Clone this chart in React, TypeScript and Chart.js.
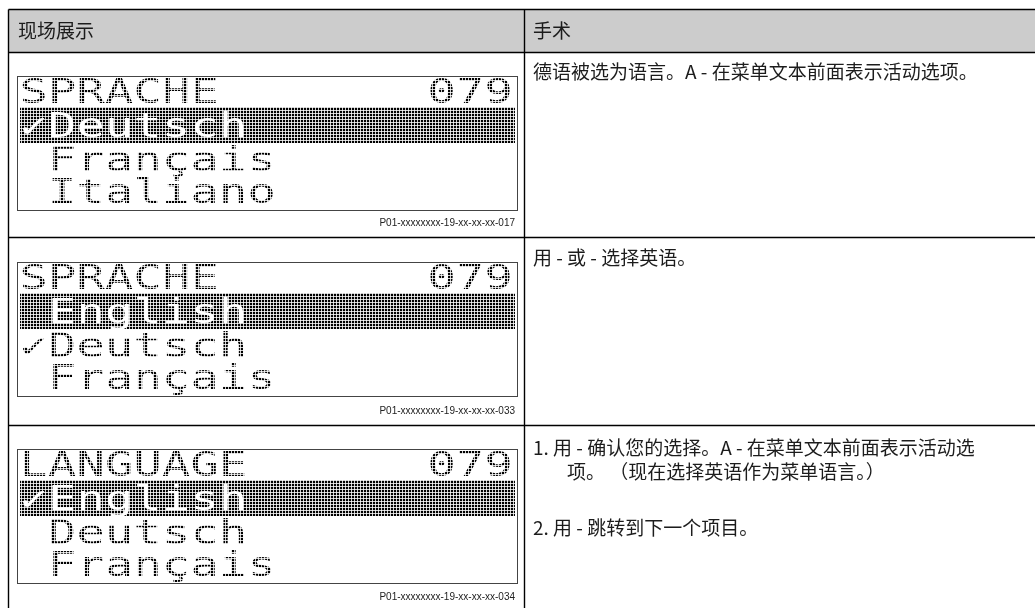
import React, { useEffect, useRef } from "react";
import { Chart, registerables } from "chart.js";

Chart.register(...registerables);

const W = 1035;
const H = 608;

// ---- data ----
const headerLabels = ["现场展示", "手术"];
const lcdTitles = ["SPRACHE", "SPRACHE", "LANGUAGE"];
const lcdCodes = ["079", "079", "079"];
const lcdItems = [
  ["✓Deutsch", " Français", " Italiano"],
  [" English", "✓Deutsch", " Français"],
  ["✓English", " Deutsch", " Français"],
];
const lcdHighlighted = [0, 0, 0];
const figureIds = [
  "P01-xxxxxxxx-19-xx-xx-xx-017",
  "P01-xxxxxxxx-19-xx-xx-xx-033",
  "P01-xxxxxxxx-19-xx-xx-xx-034",
];
const instructionLines = [
  ["德语被选为语言。A - 在菜单文本前面表示活动选项。"],
  ["用 - 或 - 选择英语。"],
  [
    "1. 用 - 确认您的选择。A - 在菜单文本前面表示活动选",
    "项。 （现在选择英语作为菜单语言。）",
    "2. 用 - 跳转到下一个项目。",
  ],
];

// ---- layout (positions in scale units) ----
const TABLE_LEFT = 8.5;
const COL_DIV = 524.5;
const ROW_LINES = [9.5, 52.5, 237.5, 425.5];
const LCD_TOPS = [76, 262, 449];
const LCD_LEFT = 17;
const LCD_RIGHT = 517;
const LCD_H = 134;
const LCD_X0 = 22;
const PITCH = 28.5;
const GLYPH_W = 23;
const CODE_END = 510;
const LINE_BASE = [27, 61, 95, 127];
const BAND_TOP = 31;
const BAND_H = 36;
const INSTR_POS = [
  [[533, 72]],
  [[533, 258]],
  [
    [533, 448],
    [567, 472],
    [533, 528],
  ],
];
const FIG_Y = [223, 411, 597];

const tablePlugin = {
  id: "tablePlugin",
  afterDraw(chart: any) {
    const ctx: CanvasRenderingContext2D = chart.ctx;
    const xs = chart.scales.x;
    const ys = chart.scales.y;
    const X = (v: number) => xs.getPixelForValue(v);
    const Y = (v: number) => ys.getPixelForValue(v);

    ctx.save();
    ctx.fillStyle = "#ffffff";
    ctx.fillRect(X(0), Y(0), X(W) - X(0), Y(H) - Y(0));

    // header fill
    ctx.fillStyle = "#cccccc";
    ctx.fillRect(X(TABLE_LEFT), Y(ROW_LINES[0]), X(W) - X(TABLE_LEFT), Y(ROW_LINES[1]) - Y(ROW_LINES[0]));

    // grid lines
    ctx.strokeStyle = "#000000";
    ctx.lineWidth = 1.4;
    ctx.beginPath();
    ROW_LINES.forEach((r) => {
      ctx.moveTo(X(TABLE_LEFT), Y(r));
      ctx.lineTo(X(W), Y(r));
    });
    ctx.moveTo(X(TABLE_LEFT), Y(ROW_LINES[0]));
    ctx.lineTo(X(TABLE_LEFT), Y(H));
    ctx.moveTo(X(COL_DIV), Y(ROW_LINES[0]));
    ctx.lineTo(X(COL_DIV), Y(H));
    ctx.stroke();

    // header text
    ctx.fillStyle = "#1c1c1c";
    ctx.font = '19px "Noto Sans CJK SC"';
    ctx.textAlign = "left";
    ctx.textBaseline = "middle";
    ctx.fillText(headerLabels[0], X(18), Y(31));
    ctx.fillText(headerLabels[1], X(533), Y(31));

    // instruction text
    instructionLines.forEach((lines, r) => {
      lines.forEach((t, i) => {
        const p = INSTR_POS[r][i];
        ctx.fillText(t, X(p[0]), Y(p[1]));
      });
    });

    // figure ids
    ctx.font = '10px "Liberation Sans"';
    ctx.textAlign = "right";
    ctx.fillStyle = "#222222";
    figureIds.forEach((f, r) => ctx.fillText(f, X(515), Y(FIG_Y[r])));

    // LCD displays
    const drawGlyph = (ch: string, left: number, base: number, color: string) => {
      ctx.fillStyle = color;
      ctx.font = '34px "DejaVu Sans Mono"';
      ctx.textAlign = "center";
      ctx.textBaseline = "alphabetic";
      ctx.save();
      ctx.translate(X(left + GLYPH_W / 2), Y(base));
      ctx.scale(1.38, 1);
      ctx.fillText(ch, 0, 0);
      ctx.restore();
    };
    const drawChars = (str: string, startCell: number, base: number, color: string) => {
      for (let i = 0; i < str.length; i++) {
        const ch = str[i];
        if (ch === " ") continue;
        drawGlyph(ch, LCD_X0 + (startCell + i) * PITCH, base, color);
      }
    };

    LCD_TOPS.forEach((T, r) => {
      const hl = lcdHighlighted[r];
      // band
      ctx.fillStyle = "#000000";
      ctx.fillRect(X(LCD_LEFT + 3), Y(T + BAND_TOP), X(LCD_RIGHT - 2) - X(LCD_LEFT + 3), Y(T + BAND_TOP + BAND_H) - Y(T + BAND_TOP));
      // title + code
      drawChars(lcdTitles[r], 0, T + LINE_BASE[0], "#000000");
      const code = lcdCodes[r];
      for (let i = 0; i < code.length; i++) {
        const left = CODE_END - GLYPH_W - (code.length - 1 - i) * PITCH;
        drawGlyph(code[i], left, T + LINE_BASE[0], "#000000");
      }
      lcdItems[r].forEach((item, i) => {
        drawChars(item, 0, T + LINE_BASE[i + 1], i === hl ? "#ffffff" : "#000000");
      });
      // dot-matrix grid overlay
      ctx.save();
      ctx.beginPath();
      ctx.rect(X(LCD_LEFT + 1), Y(T + 1), X(LCD_RIGHT - 1) - X(LCD_LEFT + 1), Y(T + LCD_H - 1) - Y(T + 1));
      ctx.clip();
      ctx.fillStyle = "rgba(255,255,255,0.8)";
      for (let x = LCD_LEFT + 1; x < LCD_RIGHT; x += 3) {
        ctx.fillRect(Math.round(X(x)), Y(T), 1, Y(T + LCD_H) - Y(T));
      }
      for (let y = T + 1; y < T + LCD_H; y += 3) {
        ctx.fillRect(X(LCD_LEFT), Math.round(Y(y)), X(LCD_RIGHT) - X(LCD_LEFT), 1);
      }
      ctx.restore();
      // frame
      ctx.strokeStyle = "#444444";
      ctx.lineWidth = 1;
      ctx.strokeRect(X(LCD_LEFT) + 0.5, Y(T) + 0.5, X(LCD_RIGHT) - X(LCD_LEFT), Y(T + LCD_H) - Y(T));
    });

    ctx.restore();
  },
};

export default function App() {
  const ref = useRef<HTMLCanvasElement>(null);
  useEffect(() => {
    const chart = new Chart(ref.current as HTMLCanvasElement, {
      type: "scatter",
      data: { datasets: [] },
      options: {
        animation: false,
        responsive: false,
        devicePixelRatio: 1,
        events: [],
        layout: { padding: 0 },
        plugins: { legend: { display: false }, tooltip: { enabled: false } },
        scales: {
          x: { type: "linear", min: 0, max: W, display: false },
          y: { type: "linear", min: 0, max: H, reverse: true, display: false },
        },
      },
      plugins: [tablePlugin],
    } as any);
    return () => chart.destroy();
  }, []);
  return (
    <div style={{ position: "fixed", left: 0, top: 0, width: W, height: H, background: "#fff" }}>
      <canvas ref={ref} width={W} height={H} style={{ display: "block", width: W, height: H }} />
    </div>
  );
}
